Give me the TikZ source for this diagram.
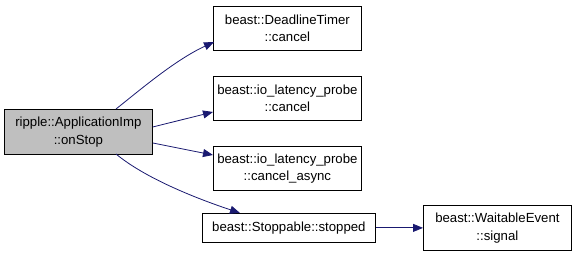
\documentclass[tikz,border=0pt]{standalone}
\usepackage{fontspec}
\setmainfont{Liberation Sans}
\usetikzlibrary{arrows.meta}
\definecolor{edgeblue}{HTML}{191970}
\definecolor{hilite}{HTML}{BFBFBF}
\tikzset{
  fnbox/.style={draw=black, line width=0.8pt, fill=white, align=center, inner sep=0pt,
    font=\fontsize{13.2}{17.5}\selectfont, anchor=north west},
  call/.style={draw=edgeblue, line width=0.8pt, -{Triangle[length=10pt,width=8pt]}, fill=none},
}
\begin{document}
\begin{tikzpicture}[x=1pt,y=-1pt]
  \useasboundingbox (0,0) rectangle (576,256);
  % caller
  \node[fnbox, fill=hilite, minimum width=148pt, minimum height=45pt] (stop) at (4,109)
    {ripple::ApplicationImp\\::onStop};
  % callees
  \node[fnbox, minimum width=148pt, minimum height=44pt] (timer) at (213,6)
    {beast::DeadlineTimer\\::cancel};
  \node[fnbox, minimum width=148pt, minimum height=44pt] (probe) at (213,76)
    {beast::io\_latency\_probe\\::cancel};
  \node[fnbox, minimum width=148pt, minimum height=44pt] (async) at (213,146)
    {beast::io\_latency\_probe\\::cancel\_async};
  \node[fnbox, minimum width=173pt, minimum height=29pt] (stopped) at (202,213)
    {beast::Stoppable::stopped};
  \node[fnbox, minimum width=148pt, minimum height=45pt] (signal) at (423,205)
    {beast::WaitableEvent\\::signal};
  % connector end points on the box borders
  \coordinate (stopTop) at (116,109);
  \coordinate (stopBot) at (116,154);
  \coordinate (timerIn) at (214,42);
  \coordinate (stoppedIn) at (240,213);
  % calls
  \draw[call] (stopTop) .. controls (140,90) and (175,60) .. (timerIn);
  \draw[call] (stop.east |- 0,127) -- (probe.west |- 0,112);
  \draw[call] (stop.east |- 0,143) -- (async.west |- 0,155);
  \draw[call] (stopBot) .. controls (145,178) and (195,198) .. (stoppedIn);
  \draw[call] (stopped.east) -- (signal.west |- stopped.east);
\end{tikzpicture}
\end{document}
